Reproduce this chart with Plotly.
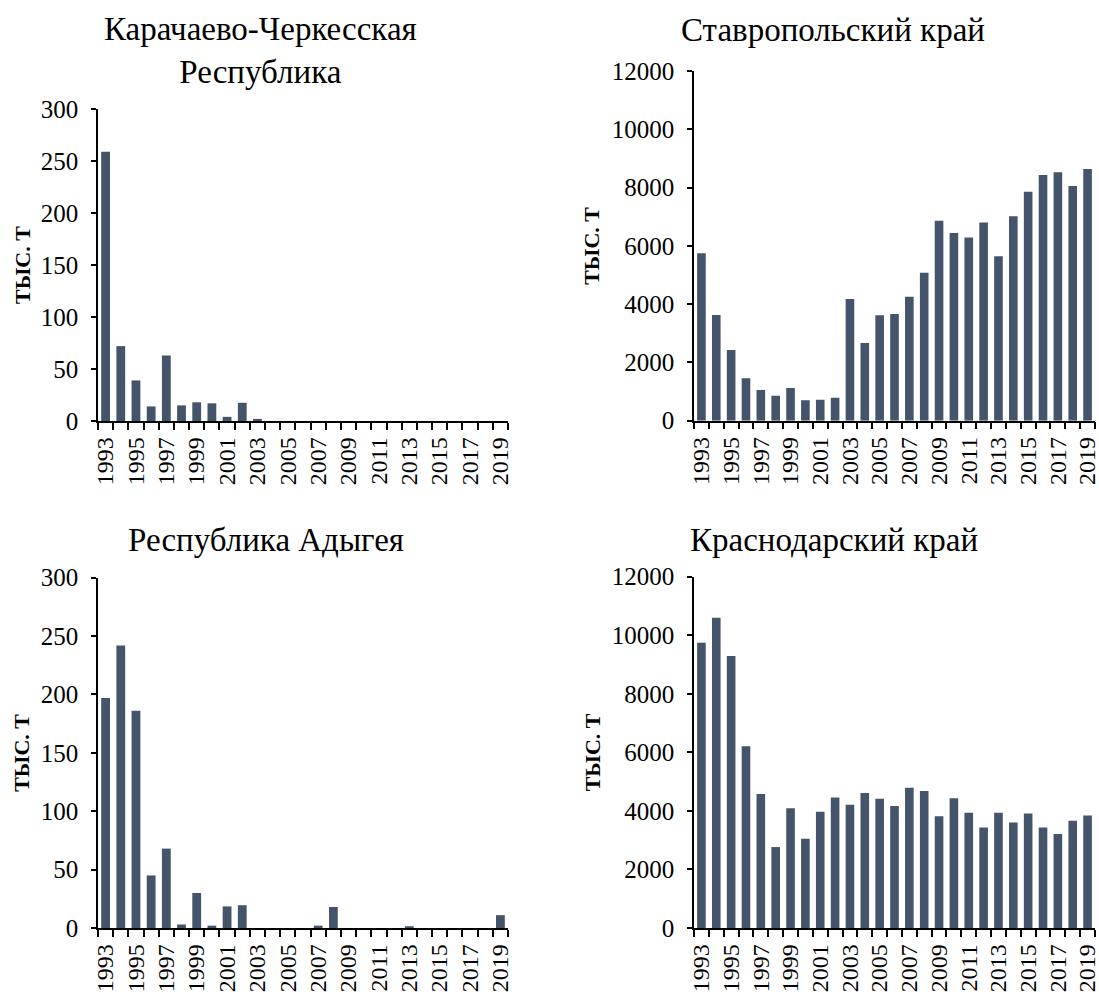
import plotly.graph_objects as go

years = list(range(1993, 2020))
tick_years = list(range(1993, 2020, 2))

kchr = [259, 72, 39, 14, 63, 15, 18, 17, 4, 17.5, 2, 0, 0, 0, 0, 0, 0, 0, 0, 0, 0, 0, 0, 0, 0, 0, 0]
stav = [5745, 3630, 2425, 1455, 1050, 860, 1120, 700, 720, 790, 4175, 2665, 3615, 3660, 4255, 5080,
        6865, 6440, 6290, 6805, 5640, 7015, 7860, 8430, 8525, 8055, 8640]
adyg = [197, 242, 186, 45, 68, 3, 30, 2, 18.5, 19.5, 0, 0, 0, 0, 2, 18, 0, 0, 0, 0, 1.5, 0, 0, 0, 0, 0, 11]
kras = [9745, 10600, 9290, 6205, 4580, 2765, 4090, 3050, 3975, 4460, 4210, 4610, 4415, 4165, 4795, 4680,
        3815, 4430, 3940, 3430, 3940, 3600, 3915, 3430, 3210, 3665, 3840]

titles = ["Карачаево-Черкесская<br>Республика", "Ставропольский край",
          "Республика Адыгея", "Краснодарский край"]
ytitle = "<b>ТЫС. Т</b>"

FONT = "Liberation Serif"
BAR = "#44546A"
W, H = 1099, 994

panels = [
    dict(data=kchr, x=(98, 508), y=(109, 421), ymax=300, dtick=50),
    dict(data=stav, x=(694, 1095), y=(71, 420.7), ymax=12000, dtick=2000),
    dict(data=adyg, x=(98, 508), y=(577.7, 928), ymax=300, dtick=50),
    dict(data=kras, x=(694, 1095), y=(576.7, 928), ymax=12000, dtick=2000),
]
title_pos = [(260, 50), (833, 30), (266, 540), (834, 540)]
ytitle_x = [22, 592, 22, 592]

fig = go.Figure()
for i, p in enumerate(panels):
    n = "" if i == 0 else str(i + 1)
    fig.add_trace(go.Bar(x=years, y=p["data"], marker_color=BAR, marker_line_width=0,
                         xaxis="x" + n, yaxis="y" + n, showlegend=False))
    xd = [p["x"][0] / W, min(p["x"][1] / W, 1.0)]
    yd = [1 - p["y"][1] / H, 1 - p["y"][0] / H]
    fig.layout["xaxis" + n] = dict(
        domain=xd, anchor="y" + n, range=[1992.5, 2019.5], automargin=False,
        tickmode="array", tickvals=tick_years, ticktext=[str(y) for y in tick_years],
        tickangle=-90, ticks="", showgrid=False, zeroline=False,
        showline=True, linecolor="black", linewidth=1.5, ticklabeloverflow="allow",
        tickfont=dict(family=FONT, size=24, color="black"), ticklabelstandoff=5,
        minor=dict(tickmode="array", tickvals=[1992.5 + k for k in range(28)],
                   ticks="outside", ticklen=7, tickwidth=1.5, tickcolor="black", showgrid=False),
    )
    fig.layout["yaxis" + n] = dict(
        domain=yd, anchor="x" + n, range=[0, p["ymax"]], dtick=p["dtick"], tickformat="d",
        automargin=False, ticklabeloverflow="allow",
        ticks="outside", ticklen=5, tickwidth=1.5, tickcolor="black",
        showgrid=False, zeroline=False, showline=True, linecolor="black", linewidth=1.5,
        tickfont=dict(family=FONT, size=25, color="black"), ticklabelstandoff=8,
    )
    tx, ty = title_pos[i]
    fig.add_annotation(text=titles[i], x=tx / W, y=1 - ty / H, xref="paper", yref="paper",
                       showarrow=False, xanchor="center", yanchor="middle",
                       font=dict(family=FONT, size=33, color="black"))
    fig.add_annotation(text=ytitle, x=ytitle_x[i] / W, y=(yd[0] + yd[1]) / 2,
                       xref="paper", yref="paper", showarrow=False, textangle=-90,
                       xanchor="center", yanchor="middle",
                       font=dict(family=FONT, size=22, color="black"))

fig.update_layout(width=W, height=H, margin=dict(l=0, r=0, t=0, b=0, autoexpand=False),
                  paper_bgcolor="white", plot_bgcolor="white", bargap=0.42)
fig.write_html("out.html", config={"displayModeBar": False},
               post_script="document.body.style.margin='0';document.body.style.overflow='hidden';")
